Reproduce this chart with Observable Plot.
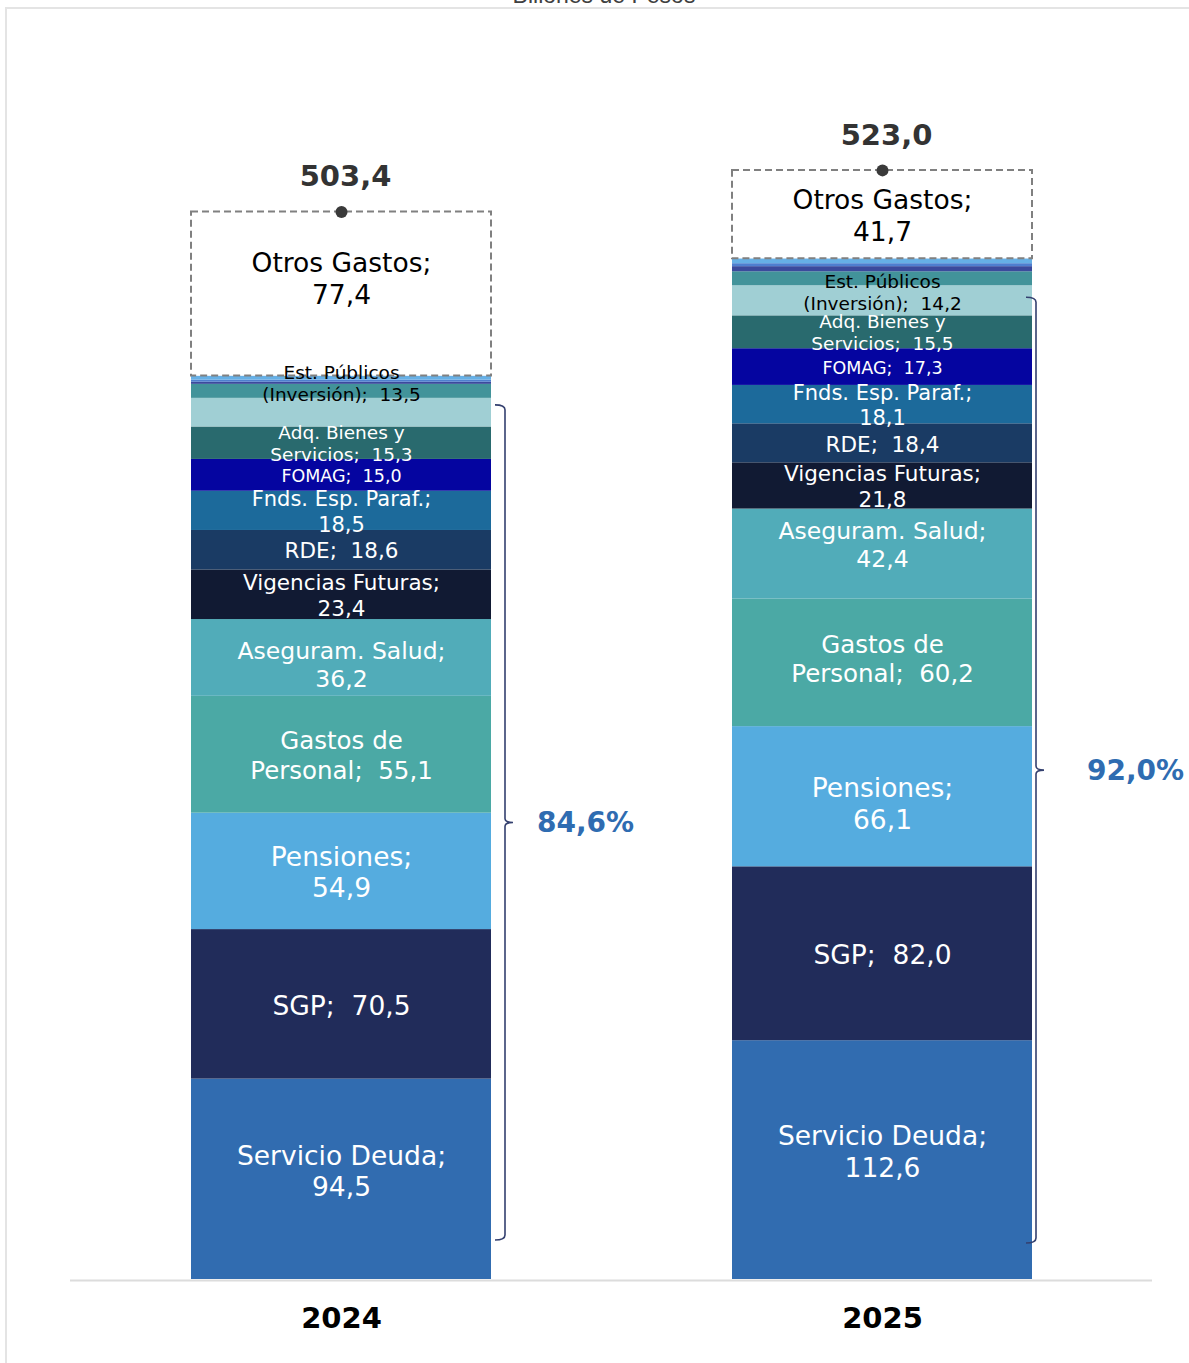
<!DOCTYPE html>
<html>
<head>
<meta charset="utf-8">
<script src="https://cdn.jsdelivr.net/npm/d3@7"></script>
<script src="https://cdn.jsdelivr.net/npm/@observablehq/plot@0.6"></script>
<style>
html, body { margin: 0; padding: 0; background: #fff; overflow: hidden; width: 1189px; height: 1363px; }
#title { position: absolute; left: 0; width: 1208px; top: -16px; text-align: center;
  font: 23px/23px "Liberation Sans", Arial, sans-serif; color: #404040; }
#chart { position: absolute; left: 0; top: 0; }
#frame { position: absolute; left: 5px; top: 7px; width: 1300px; height: 1500px;
  border: 2px solid #e4e4e4; pointer-events: none; }
svg text { white-space: pre; }
</style>
</head>
<body>
<div id="title">Billones de Pesos</div>
<div id="chart"></div>
<div id="frame"></div>
<script>
// ---------- data ----------
const years = ["2024", "2025"];
const categories = [
  "Servicio Deuda", "SGP", "Pensiones", "Gastos de Personal", "Aseguram. Salud",
  "Vigencias Futuras", "RDE", "Fnds. Esp. Paraf.", "FOMAG", "Adq. Bienes y Servicios",
  "Est. Públicos (Inversión)", "Otro A", "Otro B", "Otro C", "Otro D", "Otros Gastos"
];
const values2024 = [94.5, 70.5, 54.9, 55.1, 36.2, 23.4, 18.6, 18.5, 15.0, 15.3, 13.5, 6.6, 1.0, 1.0, 1.9, 77.4];
const values2025 = [112.6, 82.0, 66.1, 60.2, 42.4, 21.8, 18.4, 18.1, 17.3, 15.5, 14.2, 6.6, 2.4, 1.4, 2.3, 41.7];
const shares = [84.6, 92.0];            // % bracket labels
const bracketCategories = categories.slice(0, 11);

// ---------- styles ----------
const fmt = v => v.toFixed(1).replace(".", ",");
const colorOf = {
  "Servicio Deuda": "#316cb0", "SGP": "#212c5a", "Pensiones": "#55acdf",
  "Gastos de Personal": "#4ba9a5", "Aseguram. Salud": "#51acb9", "Vigencias Futuras": "#111a33",
  "RDE": "#1a3b64", "Fnds. Esp. Paraf.": "#1c6a9b", "FOMAG": "#0505a0",
  "Adq. Bienes y Servicios": "#296a6e", "Est. Públicos (Inversión)": "#a0cfd4",
  "Otro A": "#42939a", "Otro B": "#3b4a9c", "Otro C": "#4f7fcf", "Otro D": "#66b0e6",
  "Otros Gastos": "#ffffff"
};
const sizeOf = {
  "Servicio Deuda": 26.5, "SGP": 26.5, "Pensiones": 26.5, "Gastos de Personal": 24.5,
  "Aseguram. Salud": 23.5, "Vigencias Futuras": 21.5, "RDE": 21.5, "Fnds. Esp. Paraf.": 21,
  "FOMAG": 17.5, "Adq. Bienes y Servicios": 18.5, "Est. Públicos (Inversión)": 18.5, "Otros Gastos": 26.5
};
const labelOf = {
  "Servicio Deuda": v => `Servicio Deuda;\n${v}`,
  "SGP": v => `SGP;  ${v}`,
  "Pensiones": v => `Pensiones;\n${v}`,
  "Gastos de Personal": v => `Gastos de\nPersonal;  ${v}`,
  "Aseguram. Salud": v => `Aseguram. Salud;\n${v}`,
  "Vigencias Futuras": v => `Vigencias Futuras;\n${v}`,
  "RDE": v => `RDE;  ${v}`,
  "Fnds. Esp. Paraf.": v => `Fnds. Esp. Paraf.;\n${v}`,
  "FOMAG": v => `FOMAG;  ${v}`,
  "Adq. Bienes y Servicios": v => `Adq. Bienes y\nServicios;  ${v}`,
  "Est. Públicos (Inversión)": v => `Est. Públicos\n(Inversión);  ${v}`,
  "Otros Gastos": v => `Otros Gastos;\n${v}`
};
const darkText = new Set(["Est. Públicos (Inversión)", "Otros Gastos"]);
const labelShift = {
  "2024|Est. Públicos (Inversión)": -30, "2025|Est. Públicos (Inversión)": -9, "2024|Otros Gastos": -16,
  "2024|Servicio Deuda": -9, "2025|Servicio Deuda": -9, "2024|Aseguram. Salud": 6,
  "2025|Aseguram. Salud": -10, "2025|Pensiones": 6, "2025|Gastos de Personal": -5
};
const braceStyle = [
  { gap: 14, top: 7, bottom: 39, text: 32 },
  { gap: 4, top: 12, bottom: 36, text: 51 }
];

// ---------- derived table ----------
const rows = [];
const totals = [];
const coreSums = [];
years.forEach((yr, i) => {
  const vals = i === 0 ? values2024 : values2025;
  let acc = 0;
  categories.forEach((c, j) => {
    rows.push({ year: yr, cat: c, value: vals[j], y1: acc, y2: acc + vals[j] });
    acc += vals[j];
  });
  totals.push({ year: yr, total: acc });
  coreSums.push(d3.sum(bracketCategories, c => vals[categories.indexOf(c)]));
});
const labelRows = rows.filter(d => labelOf[d.cat]);
const shiftGroups = d3.groups(labelRows, d => labelShift[d.year + "|" + d.cat] || 0);

function braceMark(index, scales) {
  const x = scales.x, y = scales.y;
  const bw = typeof x.bandwidth === "function" ? x.bandwidth() : (x.bandwidth || 0);
  const g = d3.create("svg:g");
  years.forEach((yr, i) => {
    const s = braceStyle[i];
    const bx = x(yr) + bw + s.gap;
    const top = y(coreSums[i]) + s.top;
    const bottom = y(0) - s.bottom;
    const mid = (top + bottom) / 2;
    const p = `M${bx - 10},${top} Q${bx},${top} ${bx},${top + 5} L${bx},${mid - 4} Q${bx},${mid} ${bx + 8},${mid} ` +
              `M${bx + 8},${mid} Q${bx},${mid} ${bx},${mid + 4} L${bx},${bottom - 5} Q${bx},${bottom} ${bx - 10},${bottom}`;
    g.append("path").attr("d", p).attr("fill", "none").attr("stroke", "#34406f").attr("stroke-width", 1.6);
    g.append("text").attr("x", bx + s.text).attr("y", mid).attr("dy", "0.35em")
      .attr("text-anchor", "start")
      .attr("font-family", "DejaVu Sans, Verdana, sans-serif").attr("font-weight", "bold")
      .attr("font-size", 28).attr("fill", "#2f6cb1").text(fmt(shares[i]) + "%");
  });
  return g.node();
}

const chart = Plot.plot({
  width: 1189,
  height: 1363,
  marginTop: 49,
  marginBottom: 84,
  marginLeft: 70,
  marginRight: 37,
  style: { fontFamily: "DejaVu Sans, Verdana, sans-serif", background: "transparent" },
  x: { domain: years, paddingInner: 0.446, paddingOuter: 0.2216, axis: null },
  y: { domain: [0, 580], axis: null },
  color: { type: "identity" },
  marks: [
    Plot.barY(rows.filter(d => d.cat !== "Otros Gastos"), {
      x: "year", y1: "y1", y2: "y2", fill: d => colorOf[d.cat], inset: 0
    }),
    Plot.barY(rows.filter(d => d.cat === "Otros Gastos"), {
      x: "year", y1: "y1", y2: "y2", fill: "white", stroke: "#808080",
      strokeWidth: 2, strokeDasharray: "7,4", inset: 0
    }),
    Plot.ruleY([0], { stroke: "#dcdcdc", strokeWidth: 2, dy: 1 }),
    ...shiftGroups.map(([shift, grp]) => Plot.text(grp, {
      x: "year",
      y: d => (d.y1 + d.y2) / 2,
      text: d => labelOf[d.cat](fmt(d.value)),
      fill: d => darkText.has(d.cat) ? "#000000" : "#ffffff",
      fontSize: d => sizeOf[d.cat],
      lineHeight: 1.2,
      dy: shift
    })),
    Plot.dot(totals, { x: "year", y: "total", r: 6, fill: "#3a3a3a" }),
    Plot.text(totals, {
      x: "year", y: "total", text: d => fmt(d.total), dy: -35, dx: 4,
      fontSize: 29, fontWeight: "bold", fill: "#333333"
    }),
    Plot.text(years, {
      x: d => d, frameAnchor: "bottom", dy: 48, text: d => d,
      fontSize: 29, fontWeight: "bold", fill: "#000000"
    }),
    braceMark
  ]
});
document.getElementById("chart").appendChild(chart);
</script>
</body>
</html>
